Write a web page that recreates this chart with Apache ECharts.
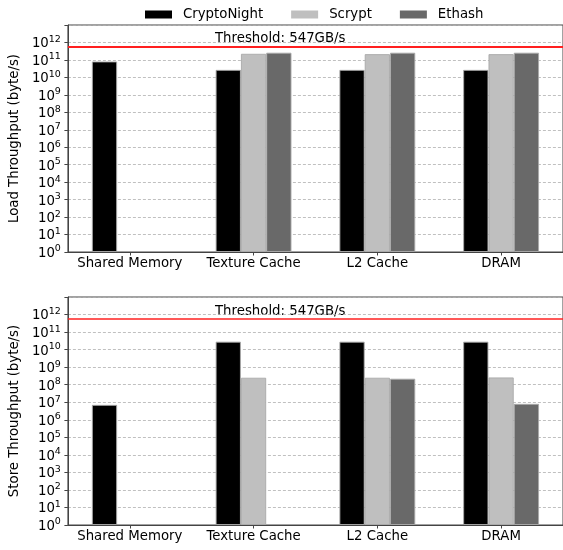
<!DOCTYPE html>
<html>
<head>
<meta charset="utf-8">
<script src="https://cdn.jsdelivr.net/npm/echarts@6/dist/echarts.min.js"></script>
<style>
  html, body { margin: 0; padding: 0; background: #fff; }
  #chart { width: 563px; height: 550px; }
</style>
</head>
<body>
<div id="chart"></div>
<script>
// Memory levels on the x axis
const categories = ['Shared Memory', 'Texture Cache', 'L2 Cache', 'DRAM'];
const seriesNames = ['CryptoNight', 'Scrypt', 'Ethash'];

// Load throughput (byte/s); null = not measured
const loadCrypto = [8.2e10, 2.7e10, 2.7e10, 2.7e10];
const loadScrypt = [null, 2.25e11, 2.15e11, 2.15e11];
const loadEthash = [null, 2.6e11, 2.6e11, 2.6e11];

// Store throughput (byte/s)
const storeCrypto = [7.1e6, 2.85e10, 2.85e10, 2.85e10];
const storeScrypt = [null, 2.5e8, 2.5e8, 2.6e8];
const storeEthash = [null, null, 2.2e8, 8.1e6];

// Peak bandwidth threshold: 547 GB/s
const thresholdBps = 547e9;
const thresholdText = 'Threshold: 547GB/s';

const FONT = 'DejaVu Sans';
const FS = 13.3;
const colors = ['#000000', '#bfbfbf', '#696969'];

const chart = echarts.init(document.getElementById('chart'), null, { renderer: 'canvas' });

function supLabel(v) {
  const e = Math.round(Math.log10(v));
  if (e > 12) return '';
  return '{b|10}{s|' + e + '}';
}

function yAxisCfg(gridIndex, name) {
  return {
    type: 'log',
    logBase: 10,
    gridIndex: gridIndex,
    min: 1,
    max: 1e13,
    interval: 1,
    name: name,
    nameLocation: 'middle',
    nameGap: 40,
    nameTextStyle: { fontFamily: FONT, fontSize: FS, color: '#000' },
    axisLine: { show: true, lineStyle: { color: '#444', width: 1 } },
    axisTick: { show: true, inside: false, length: 3.5, lineStyle: { color: '#444' } },
    axisLabel: {
      margin: 7,
      formatter: supLabel,
      rich: {
        b: { fontFamily: FONT, fontSize: FS, color: '#000', lineHeight: 16, verticalAlign: 'bottom' },
        s: { fontFamily: FONT, fontSize: 9.5, color: '#000', lineHeight: 10, verticalAlign: 'top' }
      }
    },
    splitLine: { show: true, lineStyle: { color: '#b0b0b0', type: [3, 2], width: 0.8 } },
    minorTick: { show: false },
    minorSplitLine: { show: false }
  };
}

function xAxisCfg(gridIndex) {
  return {
    type: 'category',
    gridIndex: gridIndex,
    data: categories,
    axisLine: { show: true, lineStyle: { color: '#444', width: 1 } },
    axisTick: { show: true, alignWithLabel: true, length: 3.5, lineStyle: { color: '#444' } },
    axisLabel: { fontFamily: FONT, fontSize: FS, color: '#000', margin: 5, interval: 0 },
    splitLine: { show: false }
  };
}

function barSeries(name, data, idx, axisIdx, withThreshold, lineWidth) {
  const s = {
    name: name,
    type: 'bar',
    xAxisIndex: axisIdx,
    yAxisIndex: axisIdx,
    data: data,
    barWidth: 25.3,
    barGap: '0%',
    itemStyle: { color: colors[idx], borderColor: 'rgba(170,170,170,0.9)', borderWidth: 1 },
    emphasis: { disabled: true },
    animation: false
  };
  if (withThreshold) {
    s.markLine = {
      silent: true,
      symbol: ['none', 'none'],
      label: { show: false },
      lineStyle: { color: '#ff2020', width: lineWidth, type: 'solid' },
      data: [{ yAxis: thresholdBps }],
      animation: false
    };
  }
  return s;
}

const legendText = { fontFamily: FONT, fontSize: FS, color: '#000', padding: [0, 0, 0, 6] };

const option = {
  backgroundColor: '#ffffff',
  animation: false,
  legend: {
    data: seriesNames.map(n => ({ name: n, textStyle: legendText, itemStyle: { borderWidth: 0 } })),
    left: 140,
    top: 3,
    itemWidth: 27,
    itemHeight: 8,
    itemGap: 28,
    icon: 'rect',
    itemStyle: { borderWidth: 0 },
    textStyle: legendText,
    selectedMode: false
  },
  grid: [
    { left: 62, top: 25, width: 506, height: 227, show: true, borderColor: '#444', borderWidth: 1, containLabel: false },
    { left: 62, top: 297, width: 506, height: 228, show: true, borderColor: '#444', borderWidth: 1, containLabel: false }
  ],
  xAxis: [xAxisCfg(0), xAxisCfg(1)],
  yAxis: [yAxisCfg(0, 'Load Throughput (byte/s)'), yAxisCfg(1, 'Store Throughput (byte/s)')],
  series: [
    barSeries(seriesNames[0], loadCrypto, 0, 0, true, 2),
    barSeries(seriesNames[1], loadScrypt, 1, 0, false),
    barSeries(seriesNames[2], loadEthash, 2, 0, false),
    barSeries(seriesNames[0], storeCrypto, 0, 1, true, 1.5),
    barSeries(seriesNames[1], storeScrypt, 1, 1, false),
    barSeries(seriesNames[2], storeEthash, 2, 1, false)
  ],
  graphic: [
    { type: 'text', left: 215, top: 32, silent: true,
      style: { text: thresholdText, fontFamily: FONT, fontSize: FS, fill: '#000' } },
    { type: 'text', left: 215, top: 305, silent: true,
      style: { text: thresholdText, fontFamily: FONT, fontSize: FS, fill: '#000' } }
  ]
};

chart.setOption(option);
</script>
</body>
</html>
